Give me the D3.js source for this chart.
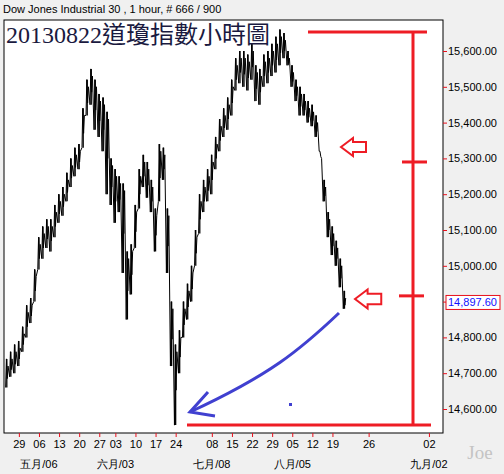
<!DOCTYPE html>
<html><head><meta charset="utf-8">
<script src="https://cdn.jsdelivr.net/npm/d3@7"></script>
<style>body{margin:0;background:#f0f0f0}</style>
</head><body><div id="chart"></div>
<script>
// trading-day index -> daily low / high
const days = d3.range(-3, 83)
const lows = [14660,14690,14700,14720,14760,14800,14840,14900,14990,15020,15050,15040,15080,15120,15140,15180,15220,15250,15270,15330,15420,15450,15380,15360,15320,15200,15170,15120,15150,14980,14850,14920,15050,15160,15220,15190,15150,15040,15180,15240,14980,14720,14555,14700,14800,14850,14900,15000,15090,15150,15180,15200,15270,15320,15360,15380,15420,15490,15510,15500,15490,15520,15460,15450,15500,15510,15530,15540,15560,15580,15560,15500,15460,15420,15420,15400,15390,15360,15320,15180,15080,15030,15000,14940,14880]
const highs = [14740,14760,14780,14790,14830,14890,14910,14990,15080,15110,15130,15130,15170,15200,15220,15260,15300,15330,15340,15440,15520,15550,15520,15480,15470,15430,15300,15270,15250,15230,15040,15060,15170,15270,15310,15290,15240,15160,15340,15330,15160,14900,14780,14820,14900,14950,15000,15100,15200,15240,15270,15310,15360,15410,15440,15470,15520,15580,15600,15600,15590,15620,15560,15550,15590,15600,15620,15640,15660,15650,15600,15560,15520,15500,15480,15460,15450,15420,15320,15240,15150,15110,15070,15020,14930]
const tickDays = [0,5,10,15,20,24,29,34,39,48,53,58,63,68,73,78,87,102]
const tickLabels = ['29','06','13','20','27','03','10','17','24','08','15','22','29','05','12','19','26','02']
const monthDays = [5,24,48,68,102]
const monthLabels = ['五月/06','六月/03','七月/08','八月/05','九月/02']
const priceTicks = [14600,14700,14800,14900,15000,15100,15200,15300,15400,15500,15600]
const lastPrice = 14897.60
const rangeLines = [15653, 15290, 14916, 14555]

const W = 504, H = 474
const L = 4, T = 20, R = 443, B = 433

const svg = d3.select('#chart').append('svg').attr('width', W).attr('height', H)
  .style('font-family', 'Arial, "Liberation Sans", sans-serif')

const x = d3.scaleLinear().domain([-3.7, 105.5]).range([L, R])
const y = d3.scaleLinear().domain([14600, 15600]).range([409, 51])

svg.append('rect').attr('x', L).attr('y', T).attr('width', R - L).attr('height', B - T)
  .attr('fill', '#fff').attr('stroke', '#000')

svg.append('text').attr('x', 3).attr('y', 13).attr('font-size', 11).text('Dow Jones Industrial 30 , 1 hour, # 666 / 900')

// price bars
const pts = []
days.forEach((d, i) => {
  pts.push([x(d - 0.3), y(lows[i])], [x(d - 0.1), y(highs[i])], [x(d + 0.1), y((lows[i] + highs[i]) / 2 - 15)], [x(d + 0.3), y(highs[i] - 20)])
})
svg.append('path').attr('d', d3.line()(pts)).attr('fill', 'none').attr('stroke', '#000').attr('stroke-width', 1)
days.forEach((d, i) => {
  svg.append('line').attr('x1', x(d)).attr('x2', x(d)).attr('y1', y(lows[i])).attr('y2', y(highs[i]))
    .attr('stroke', '#000').attr('stroke-width', 1.3)
})

// right axis
const ya = svg.append('g').attr('transform', `translate(${R},0)`)
  .call(d3.axisRight(y).tickValues(priceTicks).tickSize(4).tickPadding(1).tickFormat(d3.format(',.2f')))
ya.select('.domain').remove()
ya.selectAll('line').attr('stroke', '#e8101c')
ya.selectAll('text').attr('font-size', 11).attr('fill', '#000').attr('font-family', 'Arial, "Liberation Sans", sans-serif')

// x axis
const xa = svg.append('g').attr('transform', `translate(0,${B})`)
  .call(d3.axisBottom(x).tickValues(tickDays).tickSize(4).tickPadding(3).tickFormat((d, i) => tickLabels[i]))
xa.select('.domain').remove()
xa.selectAll('line').attr('stroke', '#e8101c')
xa.selectAll('text').attr('font-size', 11).attr('fill', '#000').attr('font-family', 'Arial, "Liberation Sans", sans-serif')
svg.selectAll('.month').data(monthDays).enter().append('text')
  .attr('x', d => x(d)).attr('y', 468).attr('text-anchor', 'middle').attr('font-size', 11)
  .text((d, i) => monthLabels[i])

// last price label
svg.append('rect').attr('x', 446).attr('y', y(lastPrice) - 7).attr('width', 54).attr('height', 14)
  .attr('fill', '#fff').attr('stroke', '#e8101c')
svg.append('text').attr('x', 448).attr('y', y(lastPrice) + 4).attr('font-size', 11).attr('fill', '#1010ff')
  .text(d3.format(',.2f')(lastPrice))

// title
svg.append('text').attr('x', 6).attr('y', 43).attr('font-size', 24)
  .attr('font-family', '"Liberation Serif", "Noto Sans CJK TC", serif').attr('fill', '#1a1a40')
  .text('20130822道瓊指數小時圖')

// red range annotation
const red = '#ee1c25'
const ann = svg.append('g').attr('stroke', red).attr('stroke-width', 3).attr('fill', 'none')
ann.append('line').attr('x1', 308).attr('x2', 427).attr('y1', y(rangeLines[0])).attr('y2', y(rangeLines[0]))
ann.append('line').attr('x1', 413).attr('x2', 413).attr('y1', y(rangeLines[0])).attr('y2', y(rangeLines[3]))
ann.append('line').attr('x1', 402).attr('x2', 427).attr('y1', y(rangeLines[1])).attr('y2', y(rangeLines[1]))
ann.append('line').attr('x1', 399).attr('x2', 424).attr('y1', y(rangeLines[2])).attr('y2', y(rangeLines[2]))
ann.append('line').attr('x1', 187).attr('x2', 431).attr('y1', y(rangeLines[3])).attr('y2', y(rangeLines[3]))
// arrows
const arrow = (x0, y0, s) => `M${x0},${y0} l${12*s},-${9*s} v${4*s} h${13*s} v${10*s} h-${13*s} v${4*s} z`
svg.append('path').attr('d', arrow(341, 147, 1)).attr('fill', 'none').attr('stroke', red).attr('stroke-width', 2)
svg.append('path').attr('d', arrow(355, 299, 1.05)).attr('fill', 'none').attr('stroke', red).attr('stroke-width', 2)

// blue arrow
const blue = '#4040d0'
svg.append('path').attr('d', 'M339,313 C300,350 270,375 190,412').attr('fill', 'none').attr('stroke', blue).attr('stroke-width', 3)
svg.append('path').attr('d', 'M208,392 L190,412 L215,416').attr('fill', 'none').attr('stroke', blue).attr('stroke-width', 3)
svg.append('rect').attr('x', 289).attr('y', 403).attr('width', 3).attr('height', 3).attr('fill', blue)

svg.append('text').attr('x', 480).attr('y', 459).attr('text-anchor', 'middle').attr('font-size', 19)
  .attr('font-family', '"Liberation Serif", serif').attr('fill', '#c4c4c4').text('Joe')
</script></body></html>
